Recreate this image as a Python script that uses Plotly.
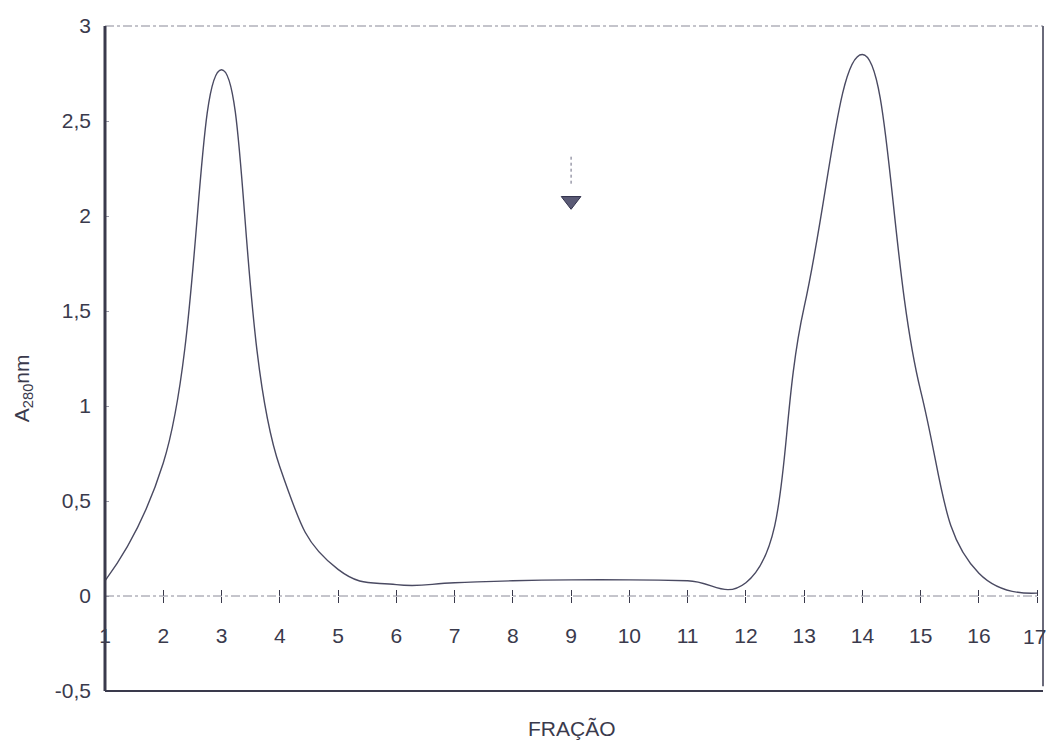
import plotly.graph_objects as go

# Absorbância a 280 nm por fração eluída
fracao = list(range(1, 18))
a280 = [0.08, 0.70, 2.77, 0.68, 0.14, 0.06, 0.07, 0.08, 0.085, 0.085, 0.08,
        0.07, 1.52, 2.85, 1.08, 0.12, 0.015]

# posição do marcador de seta
seta_x = [9]
seta_y = [2.08]

x_ticks = list(range(1, 18))
x_labels = [str(v) for v in x_ticks]
y_ticks = [-0.5, 0, 0.5, 1, 1.5, 2, 2.5, 3]
y_labels = ["-0,5", "0", "0,5", "1", "1,5", "2", "2,5", "3"]

ink = "#3a3a4c"
curve = "#4a4a62"
font = "Liberation Sans, Arial, sans-serif"

fig = go.Figure()

fig.add_trace(go.Scatter(
    x=fracao, y=a280, mode="lines",
    line=dict(color=curve, width=1.4, shape="spline", smoothing=1.3),
    showlegend=False, hoverinfo="skip",
))

fig.add_trace(go.Scatter(
    x=seta_x, y=seta_y, mode="markers",
    marker=dict(symbol="triangle-down", size=17, color="#5a5a75",
                line=dict(color="#30304a", width=1)),
    showlegend=False, hoverinfo="skip",
))

# haste pontilhada da seta
fig.add_shape(type="line", x0=seta_x[0], x1=seta_x[0], y0=seta_y[0] + 0.09, y1=seta_y[0] + 0.24,
              line=dict(color="#6a6a80", width=1, dash="dot"))

# eixo horizontal em y = 0 (traço-ponto)
fig.add_shape(type="line", x0=1, x1=17, y0=0, y1=0,
              line=dict(color="#8a8a98", width=1, dash="dashdot"))
# moldura
fig.add_shape(type="line", xref="paper", yref="paper", x0=0, x1=1, y0=1, y1=1,
              line=dict(color="#8a8a98", width=1.2, dash="dashdot"))
fig.add_shape(type="line", xref="paper", yref="paper", x0=0, x1=1, y0=0, y1=0,
              line=dict(color=ink, width=2))
fig.add_shape(type="line", xref="paper", yref="paper", x0=0, x1=0, y0=0, y1=1,
              line=dict(color=ink, width=3))
fig.add_shape(type="line", xref="paper", yref="paper", x0=1, x1=1, y0=0.007, y1=1,
              line=dict(color="#6a6a7a", width=2))

fig.update_layout(
    width=1046, height=742,
    margin=dict(l=105, r=3, t=26, b=51, autoexpand=False),
    paper_bgcolor="white", plot_bgcolor="white",
    font=dict(family=font, color=ink, size=21),
    xaxis=dict(
        range=[1, 17.10], tickmode="array", tickvals=x_ticks[:-1],
        ticktext=x_labels[:-1],
        anchor="free", position=0.5 / 3.5, automargin=False,
        showline=False, showgrid=False, zeroline=False,
        ticks="outside", ticklen=6, tickwidth=1, tickcolor=ink,
        ticklabelstandoff=15, ticklabeloverflow="allow",
        tickfont=dict(size=21, color=ink),
    ),
    xaxis2=dict(
        range=[1, 17.10], tickmode="array", tickvals=x_ticks,
        overlaying="x", anchor="free", position=0.5 / 3.5, automargin=False,
        showline=False, showgrid=False, zeroline=False, showticklabels=False,
        ticks="inside", ticklen=6, tickwidth=1, tickcolor=ink,
    ),
    xaxis3=dict(
        range=[1, 17.10], tickmode="array", tickvals=x_ticks[-1:],
        overlaying="x", anchor="free", position=0.5 / 3.5, automargin=False,
        showline=False, showgrid=False, zeroline=False, showticklabels=False,
        ticks="outside", ticklen=6, tickwidth=1, tickcolor=ink,
    ),
    yaxis=dict(
        range=[-0.5, 3], tickmode="array", tickvals=y_ticks, ticktext=y_labels,
        showline=False, showgrid=False, zeroline=False, automargin=False,
        ticks="inside", ticklen=4, tickcolor="#9a9aa8",
        ticklabelstandoff=13,
        tickfont=dict(size=21, color=ink),
    ),
)

# traços auxiliares para ativar os eixos sobrepostos
fig.add_trace(go.Scatter(x=[1], y=[None], xaxis="x2", showlegend=False, hoverinfo="skip"))
fig.add_trace(go.Scatter(x=[1], y=[None], xaxis="x3", showlegend=False, hoverinfo="skip"))

# último rótulo do eixo x, junto à borda direita
fig.add_annotation(
    text=x_labels[-1], x=x_ticks[-1], y=0, xref="x", yref="y",
    xanchor="center", yanchor="middle", xshift=-3, yshift=-40,
    showarrow=False, font=dict(size=21, color=ink, family=font),
)

fig.add_annotation(
    text="FRAÇÃO", xref="paper", yref="paper", x=0.498, y=-0.056,
    xanchor="center", yanchor="middle", showarrow=False,
    font=dict(size=21, color=ink, family=font),
)
fig.add_annotation(
    text="A<sub>280</sub>nm", xref="paper", yref="paper", x=-0.088, y=0.456,
    xanchor="center", yanchor="middle", showarrow=False, textangle=-90,
    font=dict(size=21, color=ink, family=font),
)

fig.write_html("out.html")
